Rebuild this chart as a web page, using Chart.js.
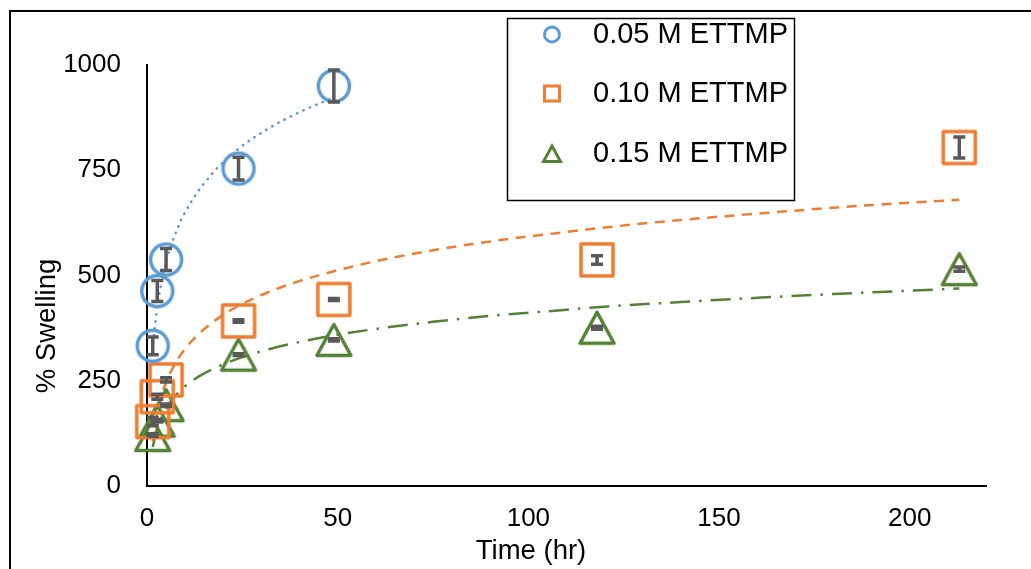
<!DOCTYPE html>
<html>
<head>
<meta charset="utf-8">
<style>
  html, body { margin: 0; padding: 0; background: #fff; }
  #wrap { width: 1031px; height: 569px; }
</style>
<script src="https://cdn.jsdelivr.net/npm/chart.js@4.4.1/dist/chart.umd.min.js"></script>
</head>
<body>
<div id="wrap"><canvas id="swellChart" width="1031" height="569"></canvas></div>
<script>
// measured points (hr, % swelling) and error bar half-widths
const times = [1.5, 2.7, 5, 24, 49, 118, 213];
const swell005 = [333, 463, 538, 754, 950];
const err005 = [21, 25, 26, 27, 38];
const swell010 = [153, 212, 252, 392, 443, 537, 804];
const err010 = [10, 6, 5, 3, 2.5, 10, 25];
const swell015 = [121, 155, 192, 312, 347, 376, 515];
const err015 = [3, 3, 3, 2, 2.5, 3.5, 5];

// trendlines
const fitTimes005 = [1.5, 2, 3, 5, 8, 12, 18, 24, 32, 40, 49];
const fit005 = [324, 373, 443, 531, 612, 681, 751, 801, 850, 888, 923];
const fitTimes = [1.5, 2.7, 5, 8, 12, 18, 24, 32, 40, 49, 60, 75, 90, 105, 120, 140, 160, 180, 200, 213];
const fit010 = [106, 175, 246, 300, 347, 394, 428, 461, 487, 510, 534, 560, 581, 598, 614, 632, 647, 661, 673, 680];
const fit015 = [93, 137, 184, 220, 251, 281, 303, 325, 342, 358, 373, 390, 404, 415, 426, 437, 447, 456, 464, 469];

const seriesLabels = ['0.05 M ETTMP', '0.10 M ETTMP', '0.15 M ETTMP'];
const xTicks = [0, 50, 100, 150, 200];
const yTicks = [0, 250, 500, 750, 1000];

const BLUE = '#5B9BD5', ORANGE = '#ED7D31', GREEN = '#548235', ERR = '#595959';
const FONT = "'Liberation Sans', Arial, sans-serif";

function pts(xs, ys) {
  return ys.map((y, i) => ({ x: xs[i], y: y }));
}

function markerCanvas(shape, color) {
  const c = document.createElement('canvas');
  c.width = 40; c.height = 40;
  const g = c.getContext('2d');
  g.strokeStyle = color;
  g.lineWidth = 3.5;
  g.lineJoin = 'round';
  g.beginPath();
  if (shape === 'circle') {
    g.arc(20, 20, 15.5, 0, Math.PI * 2);
  } else if (shape === 'square') {
    g.rect(4, 4, 32, 32);
  } else {
    g.moveTo(20, 4.5); g.lineTo(37, 35.5); g.lineTo(3, 35.5); g.closePath();
  }
  g.stroke();
  return c;
}

const frame = {
  id: 'frame',
  beforeDraw(chart) {
    const ctx = chart.ctx;
    ctx.save();
    ctx.fillStyle = '#fff';
    ctx.fillRect(0, 0, chart.width, chart.height);
    ctx.strokeStyle = '#000';
    ctx.lineWidth = 2;
    ctx.beginPath();
    ctx.moveTo(10, chart.height); ctx.lineTo(10, 11); ctx.lineTo(chart.width, 11);
    ctx.stroke();
    ctx.restore();
  }
};

const errorBars = {
  id: 'errorBars',
  afterDatasetsDraw(chart) {
    const { ctx, scales: { x, y } } = chart;
    ctx.save();
    ctx.strokeStyle = ERR;
    ctx.lineWidth = 3.5;
    chart.data.datasets.forEach(ds => {
      if (!ds.errors) return;
      ds.data.forEach((p, j) => {
        const px = x.getPixelForValue(p.x);
        const top = y.getPixelForValue(p.y + ds.errors[j]);
        const bot = y.getPixelForValue(p.y - ds.errors[j]);
        ctx.beginPath();
        ctx.moveTo(px, top); ctx.lineTo(px, bot);
        ctx.moveTo(px - 6, top); ctx.lineTo(px + 6, top);
        ctx.moveTo(px - 6, bot); ctx.lineTo(px + 6, bot);
        ctx.stroke();
      });
    });
    ctx.restore();
  }
};

const axisTitles = {
  id: 'axisTitles',
  afterDraw(chart) {
    const ctx = chart.ctx;
    ctx.save();
    ctx.fillStyle = '#000';
    ctx.font = '27.5px ' + FONT;
    ctx.textAlign = 'center';
    ctx.textBaseline = 'middle';
    ctx.fillText('Time (hr)', 531, 551);
    ctx.translate(47, 326);
    ctx.rotate(-Math.PI / 2);
    ctx.fillText('% Swelling', 0, 0);
    ctx.restore();
  }
};

const boxLegend = {
  id: 'boxLegend',
  afterDraw(chart) {
    const ctx = chart.ctx;
    const rows = [34.5, 93.5, 154];
    const shapes = ['circle', 'square', 'triangle'];
    const colors = [BLUE, ORANGE, GREEN];
    ctx.save();
    ctx.fillStyle = '#fff';
    ctx.fillRect(507.5, 18.5, 287, 182);
    ctx.strokeStyle = '#000';
    ctx.lineWidth = 1.5;
    ctx.strokeRect(507.5, 18.5, 287, 182);
    rows.forEach((ry, i) => {
      ctx.strokeStyle = colors[i];
      ctx.lineWidth = 3;
      ctx.lineJoin = 'miter';
      ctx.beginPath();
      if (shapes[i] === 'circle') {
        ctx.arc(552, ry, 7.5, 0, Math.PI * 2);
      } else if (shapes[i] === 'square') {
        ctx.rect(544.5, ry - 7.5, 15, 15);
      } else {
        ctx.moveTo(552, ry - 8); ctx.lineTo(560.5, ry + 7.5); ctx.lineTo(543.5, ry + 7.5); ctx.closePath();
      }
      ctx.stroke();
      ctx.fillStyle = '#000';
      ctx.font = '29px ' + FONT;
      ctx.textAlign = 'left';
      ctx.textBaseline = 'middle';
      ctx.fillText(seriesLabels[i], 593, ry);
    });
    ctx.restore();
  }
};

function markerSet(label, xs, ys, errs, shape, color) {
  return {
    label: label,
    data: pts(xs, ys),
    errors: errs,
    pointStyle: markerCanvas(shape, color),
    pointRadius: 17,
    borderColor: color,
    backgroundColor: 'transparent',
    showLine: false,
    clip: false,
    order: 1
  };
}

function trendSet(xs, ys, color, dash, cap) {
  return {
    label: 'trend',
    data: pts(xs, ys),
    showLine: true,
    pointRadius: 0,
    borderColor: color,
    borderWidth: 2.5,
    borderDash: dash,
    borderCapStyle: cap,
    cubicInterpolationMode: 'monotone',
    clip: false,
    order: 2
  };
}

new Chart(document.getElementById('swellChart'), {
  type: 'scatter',
  data: {
    datasets: [
      markerSet(seriesLabels[0], times, swell005, err005, 'circle', BLUE),
      markerSet(seriesLabels[1], times, swell010, err010, 'square', ORANGE),
      markerSet(seriesLabels[2], times, swell015, err015, 'triangle', GREEN),
      trendSet(fitTimes005, fit005, BLUE, [0.5, 6.5], 'round'),
      trendSet(fitTimes, fit010, ORANGE, [10, 7.5], 'butt'),
      trendSet(fitTimes, fit015, GREEN, [20, 9, 2.5, 9], 'butt')
    ]
  },
  options: {
    responsive: false,
    animation: false,
    events: [],
    layout: { padding: { left: 0, right: 45, top: 65, bottom: 0 } },
    plugins: {
      legend: { display: false },
      tooltip: { enabled: false }
    },
    scales: {
      x: {
        type: 'linear',
        min: 0,
        max: 220,
        grid: { display: false },
        border: { display: true, color: '#000', width: 2 },
        ticks: { color: '#000', padding: 9, font: { family: FONT, size: 26 }, callback: v => String(v) },
        afterBuildTicks: s => { s.ticks = xTicks.map(v => ({ value: v })); },
        afterFit: s => { s.height = 83; }
      },
      y: {
        type: 'linear',
        min: 0,
        max: 1000,
        grid: { display: false },
        border: { display: true, color: '#000', width: 2 },
        ticks: { color: '#000', padding: 18, font: { family: FONT, size: 26 }, callback: v => String(v) },
        afterBuildTicks: s => { s.ticks = yTicks.map(v => ({ value: v })); },
        afterFit: s => { s.width = 147; }
      }
    }
  },
  plugins: [frame, errorBars, axisTitles, boxLegend]
});
</script>
</body>
</html>
